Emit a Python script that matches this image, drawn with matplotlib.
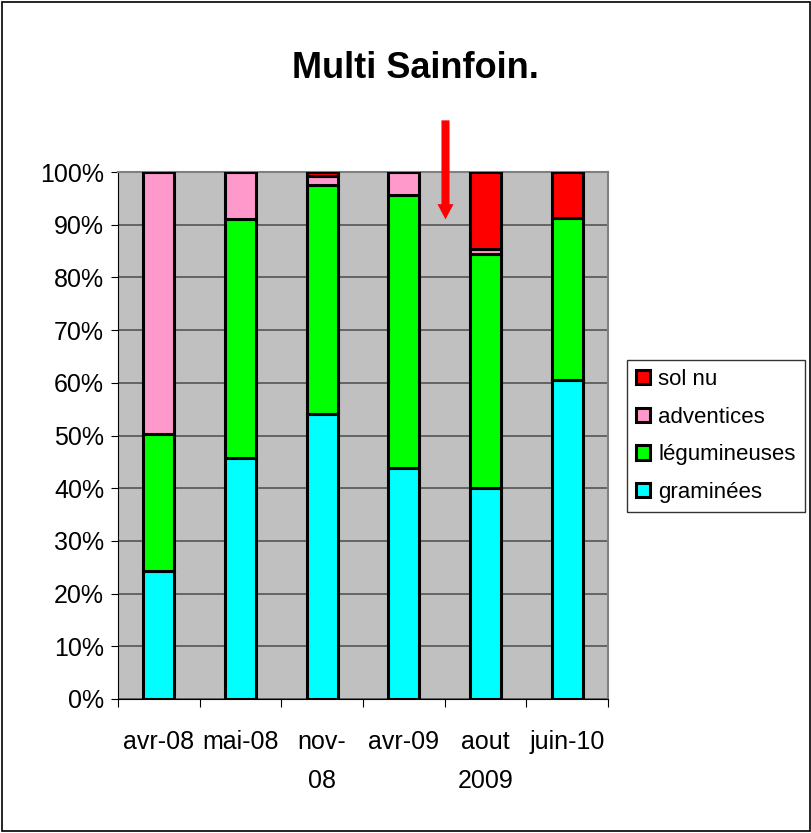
import numpy as np
import matplotlib.pyplot as plt
from matplotlib.patches import Rectangle

plt.rcParams['font.family'] = ['Liberation Sans', 'DejaVu Sans']

dates = ["avr-08", "mai-08", "nov-\n08", "avr-09", "aout\n2009", "juin-10"]
graminees = [24.3, 45.7, 54.1, 43.8, 40.0, 60.5]
legumineuses = [26.0, 45.4, 43.4, 51.8, 44.4, 30.8]
adventices = [49.7, 8.9, 1.7, 4.4, 1.0, 0.0]
sol_nu = [0.0, 0.0, 0.8, 0.0, 14.6, 8.7]

series = [("graminées", graminees, "#00FFFF"),
          ("légumineuses", legumineuses, "#00FF00"),
          ("adventices", adventices, "#FF99CC"),
          ("sol nu", sol_nu, "#FF0000")]

fig = plt.figure(figsize=(8.12, 8.33), dpi=100)
ax = fig.add_axes([118/812, 1 - 699/833, 490/812, 527/833])
ax.set_facecolor("#C0C0C0")

x = np.arange(len(dates))
bottom = np.zeros(len(dates))
handles = []
for name, vals, col in series:
    vals = np.array(vals)
    b = ax.bar(x, vals, bottom=bottom, width=0.38, color=col,
               edgecolor="black", linewidth=2.2, label=name, zorder=3)
    handles.append(b)
    bottom += vals

ax.set_xlim(-0.5, 5.5)
ax.set_ylim(0, 100)
ax.set_yticks(np.arange(0, 101, 10))
ax.set_yticklabels([f"{v}%" for v in range(0, 101, 10)], fontsize=18)
ax.yaxis.grid(True, color="#555555", linewidth=1.2, zorder=0)
ax.set_xticks(np.arange(-0.5, 6, 1))
ax.set_xticklabels([])
ax.set_xticks(x, minor=True)
ax.set_xticklabels(dates, minor=True, fontsize=18, linespacing=1.8)
ax.tick_params(axis="x", which="minor", length=0, pad=22)
ax.tick_params(axis="x", which="major", length=6, direction="out")
ax.tick_params(axis="y", length=5, direction="out", pad=5)
for s in ["top", "right"]:
    ax.spines[s].set_color("#808080")
    ax.spines[s].set_linewidth(1.5)
for s in ["left", "bottom"]:
    ax.spines[s].set_color("black")

# red arrow between avr-09 and aout 2009
ax.annotate("", xy=(3.51, 91.0), xytext=(3.51, 109.8),
            arrowprops=dict(width=5.8, headwidth=11.5, headlength=11,
                            color="red", linewidth=0, shrink=0),
            annotation_clip=False)

fig.text(415/812, 1 - 68/833, "Multi Sainfoin.", ha="center", va="center",
         fontsize=26, fontweight="bold")

leg = fig.legend(handles[::-1], [s[0] for s in series][::-1],
                 loc="center", bbox_to_anchor=(716/812, 1 - 436/833),
                 fontsize=16, frameon=True, fancybox=False, edgecolor="black",
                 handlelength=0.6, handleheight=0.6, handletextpad=0.4,
                 labelspacing=0.75, borderpad=0.4)
leg.get_frame().set_linewidth(1)

fig.patches.append(Rectangle((0.002, 0.002), 0.996, 0.996, transform=fig.transFigure,
                             fill=False, edgecolor="black", linewidth=1.2))

fig.savefig("out.png", dpi=100)
